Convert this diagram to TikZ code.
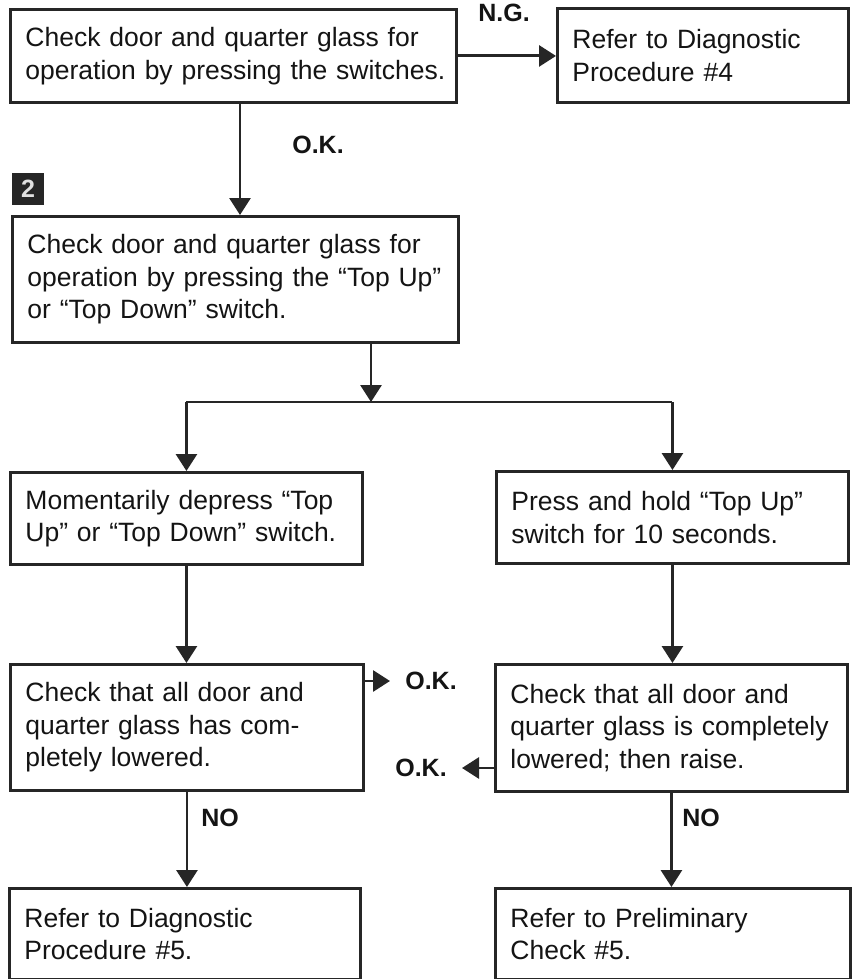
\documentclass[tikz,border=0pt]{standalone}
\usepackage{fontspec}
\setmainfont{Liberation Sans}
\usetikzlibrary{arrows.meta}
\definecolor{ink}{HTML}{262626}
\definecolor{txt}{HTML}{141414}
\newcommand\oneline[1]{\mbox{#1}}
\begin{document}
\begin{tikzpicture}[x=1pt,y=-1pt,
  box/.style={draw=ink, line width=2.9pt, rectangle, anchor=north west,
    inner xsep=15pt, inner ysep=0pt, align=left, text=txt,
    font=\fontsize{26.5}{32.5}\selectfont},
  lbl/.style={inner sep=0pt, text=txt, font=\fontsize{25}{30}\selectfont\bfseries},
  arr/.style={draw=ink, line width=2.9pt, -{Triangle[length=17pt,width=21pt]}},
  ln/.style={draw=ink, line width=2.9pt}]
\fill[white] (0,0) rectangle (855,979);
\useasboundingbox (0,0) rectangle (855,979);

% boxes
\node[box, minimum width=446pt, text width=416pt, minimum height=93pt] (b1) at (9,8)
  {\oneline{Check door and quarter glass for}\\\oneline{operation by pressing the switches.}};
\node[box, minimum width=291pt, text width=261pt, minimum height=94pt] (r4) at (556,7)
  {Refer to Diagnostic\\Procedure \#4};
\node[box, minimum width=446pt, text width=416pt, minimum height=126pt] (b2) at (11,215)
  {\oneline{Check door and quarter glass for}\\\oneline{operation by pressing the “Top Up”}\\\oneline{or “Top Down” switch.}};
\node[box, minimum width=352pt, text width=322pt, minimum height=92pt] (b3) at (9,471)
  {\oneline{Momentarily depress “Top}\\\oneline{Up” or “Top Down” switch.}};
\node[box, minimum width=352pt, text width=322pt, minimum height=92pt] (b4) at (495,470)
  {\oneline{Press and hold “Top Up”}\\\oneline{switch for 10 seconds.}};
\node[box, minimum width=353pt, text width=323pt, minimum height=126pt] (b5) at (9,663)
  {\oneline{Check that all door and}\\\oneline{quarter glass has com-}\\\oneline{pletely lowered.}};
\node[box, minimum width=352pt, text width=322pt, minimum height=127pt] (b6) at (494,663)
  {\oneline{Check that all door and}\\\oneline{quarter glass is completely}\\\oneline{lowered; then raise.}};
\node[box, minimum width=351pt, text width=321pt, minimum height=91pt] (b7) at (8,887)
  {\oneline{Refer to Diagnostic}\\\oneline{Procedure \#5.}};
\node[box, minimum width=355pt, text width=325pt, minimum height=91pt] (b8) at (494,887)
  {\oneline{Refer to Preliminary}\\\oneline{Check \#5.}};

% step number
\node[fill=ink, minimum width=32pt, minimum height=32pt, inner sep=0pt,
  text=white!88!black, font=\fontsize{25}{30}\selectfont\bfseries] (num) at (28,189) {2};

% labels
\node[lbl] (ng) at (504,13) {N.G.};
\node[lbl] (ok1) at (318,145) {O.K.};
\node[lbl] (ok2) at (431,681) {O.K.};
\node[lbl] (ok3) at (421,768) {O.K.};
\node[lbl] (no1) at (220,818) {NO};
\node[lbl] (no2) at (701,818) {NO};

% helper coordinates
\coordinate (colA) at (240,0);
\coordinate (split) at (371,402);
\coordinate (okrTip) at (390,681);
\coordinate (oklTip) at (462,768);

% connectors
\draw[arr] (b1.east) -- (b1.east -| r4.west);
\draw[arr] (b1.south -| colA) -- (b2.north -| colA);
\draw[arr] (b2.south -| split) -- (split);
\draw[ln] (b3.north |- split) -- (b4.north |- split);
\draw[arr] (b3.north |- split) -- (b3.north);
\draw[arr] (b4.north |- split) -- (b4.north);
\draw[arr] (b3.south) -- (b3.south |- b5.north);
\draw[arr] (b4.south) -- (b4.south |- b6.north);
\draw[arr] (b5.south) -- (b5.south |- b7.north);
\draw[arr] (b6.south) -- (b6.south |- b8.north);
\draw[arr] (b5.east |- okrTip) -- (okrTip);
\draw[arr] (b6.west |- oklTip) -- (oklTip);
\end{tikzpicture}
\end{document}
